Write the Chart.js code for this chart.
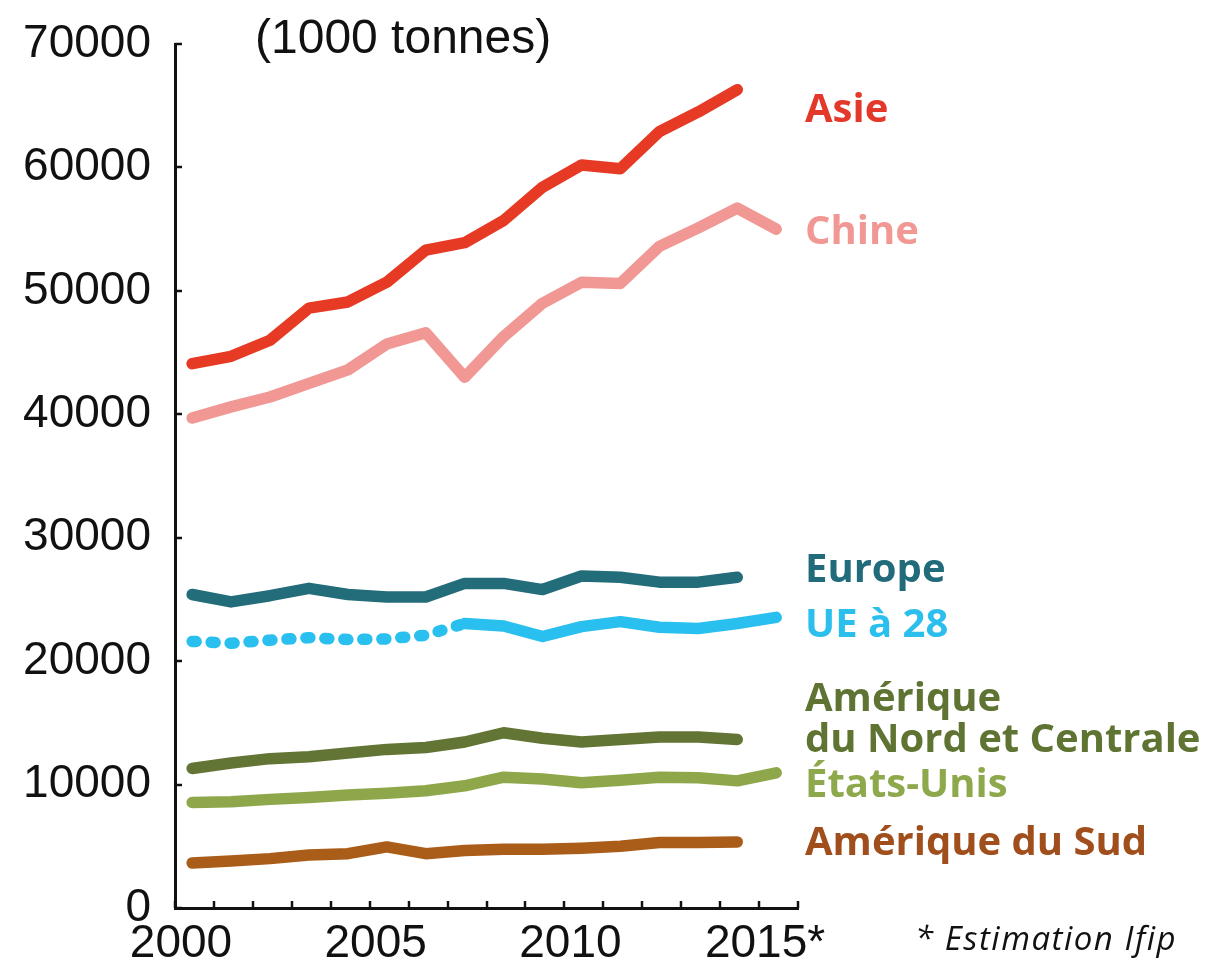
<!DOCTYPE html>
<html><head><meta charset="utf-8">
<script src="https://cdn.jsdelivr.net/npm/chart.js@4/dist/chart.umd.min.js"></script>
<style>html,body{margin:0;padding:0;background:#fff;}#wrap{position:relative;width:1207px;height:964px;}</style>
</head><body><div id="wrap"><canvas id="c" width="1207" height="964"></canvas></div>
<script>
// ---- data ----
const years = [2000,2001,2002,2003,2004,2005,2006,2007,2008,2009,2010,2011,2012,2013,2014,2015];
const xTickLabels = ['2000','2005','2010','2015*'];
const yTickValues = [0,10000,20000,30000,40000,50000,60000,70000];
const asie        = [44100,44700,46000,48600,49100,50700,53300,53900,55700,58400,60200,59900,62900,64500,66300];
const chine       = [39700,40600,41400,42500,43600,45700,46600,43000,46300,49000,50700,50600,53600,55100,56700,55000];
const europe      = [25400,24800,25300,25900,25400,25200,25200,26300,26300,25800,26900,26800,26400,26400,26800];
const ue28        = [21600,21450,21700,21900,21750,21800,22100,23050,22850,22000,22800,23200,22750,22650,23050,23550];
const ameriqueNC  = [11300,11750,12100,12250,12550,12850,13000,13450,14200,13750,13450,13650,13850,13850,13650];
const etatsUnis   = [8550,8600,8800,8950,9150,9300,9500,9900,10600,10450,10150,10350,10600,10550,10300,10950];
const ameriqueSud = [3650,3800,4000,4300,4400,4950,4400,4650,4750,4750,4850,5000,5300,5300,5350];
const seriesNames = ['Asie','Chine','Europe','UE à 28','Amérique du Nord et Centrale','États-Unis','Amérique du Sud'];
const unitLabel = '(1000 tonnes)';
const footnote = '* Estimation Ifip';

// ---- styling ----
const lineColors = ['#e63a25','#f19794','#236c79','#29bfee','#627534','#8fa74b','#aa5d19'];
const textColors = ['#e3382a','#f19894','#216b7a','#2cbfee','#5f7433','#8ea84c','#a04f1c'];
const toPts = arr => arr.map((v,i)=>({x: years[i], y: v}));
const seriesValues = [asie, chine, europe, ue28, ameriqueNC, etatsUnis, ameriqueSud];

const datasets = seriesValues.map((vals, i) => ({
  label: seriesNames[i],
  data: toPts(vals),
  borderColor: lineColors[i],
  borderWidth: 11.5,
  borderCapStyle: 'round',
  borderJoinStyle: 'round',
  pointRadius: 0,
  fill: false,
  tension: 0,
  segment: i === 3 ? { borderDash: c => c.p0DataIndex < 7 ? [4, 15] : undefined } : undefined
}));

const labelLayout = [
  {lines:['Asie'], x:805, y:[122]},
  {lines:['Chine'], x:805, y:[244]},
  {lines:['Europe'], x:805, y:[582]},
  {lines:['UE à 28'], x:805, y:[637]},
  {lines:['Amérique','du Nord et Centrale'], x:805, y:[711,752]},
  {lines:['États-Unis'], x:805, y:[797]},
  {lines:['Amérique du Sud'], x:805, y:[855]}
];

const annot = {
  id:'annot',
  afterDraw(chart){
    const {ctx, scales:{x, y}} = chart;
    ctx.save();
    // inward tick marks
    ctx.strokeStyle = '#111'; ctx.lineWidth = 2.5; ctx.lineCap='butt';
    x.ticks.forEach(t => { const px = Math.round(x.getPixelForValue(t.value)); ctx.beginPath(); ctx.moveTo(px, x.top); ctx.lineTo(px, x.top - 7); ctx.stroke(); });
    y.ticks.forEach(t => { const py = Math.round(y.getPixelForValue(t.value)); ctx.beginPath(); ctx.moveTo(y.right, py); ctx.lineTo(y.right + 7, py); ctx.stroke(); });
    // series labels
    ctx.textAlign = 'left'; ctx.textBaseline = 'alphabetic';
    ctx.font = 'bold 40px "Open Sans", "Noto Sans", sans-serif';
    labelLayout.forEach((l, i) => {
      ctx.fillStyle = textColors[i];
      l.lines.forEach((s, j) => ctx.fillText(s, l.x, l.y[j]));
    });
    // unit label
    ctx.fillStyle = '#111';
    ctx.font = '48px "Liberation Sans", Arial, sans-serif';
    ctx.fillText(unitLabel, 255, 53);
    // footnote
    ctx.font = 'italic 33px "Open Sans", "Noto Sans", sans-serif';
    if ('letterSpacing' in ctx) ctx.letterSpacing = '1.5px';
    ctx.fillText(footnote, 915, 950);
    ctx.restore();
  }
};

new Chart(document.getElementById('c'), {
  type: 'line',
  data: { datasets },
  options: {
    responsive: false, animation: false, devicePixelRatio: 1,
    layout: { padding: { top: 44, right: 409, left: 0, bottom: 0 } },
    plugins: { legend: { display: false }, tooltip: { enabled: false } },
    scales: {
      x: {
        type: 'linear', min: 1999.56, max: 2015.56,
        afterBuildTicks: s => { s.ticks = Array.from({length: 17}, (_, k) => ({ value: s.min + k })); },
        afterFit: s => { s.height = 56; s.paddingLeft = 0; s.paddingRight = 0; },
        ticks: {
          autoSkip: false, maxRotation: 0, minRotation: 0, padding: 9, labelOffset: 6,
          color: '#111', font: { family: '"Liberation Sans", Arial, sans-serif', size: 46 },
          callback: (v, i) => (i % 5 === 0 ? xTickLabels[i / 5] : '')
        },
        grid: { drawOnChartArea: false, drawTicks: false },
        border: { display: true, color: '#111', width: 3 }
      },
      y: {
        min: 0, max: 70000,
        afterBuildTicks: s => { s.ticks = yTickValues.map(v => ({ value: v })); },
        afterFit: s => { s.width = 175; s.paddingTop = 0; s.paddingBottom = 0; },
        ticks: {
          padding: 24, color: '#111',
          font: { family: '"Liberation Sans", Arial, sans-serif', size: 46 },
          callback: v => String(v)
        },
        grid: { drawOnChartArea: false, drawTicks: false },
        border: { display: true, color: '#111', width: 3 }
      }
    }
  },
  plugins: [annot]
});
</script>
</body></html>
